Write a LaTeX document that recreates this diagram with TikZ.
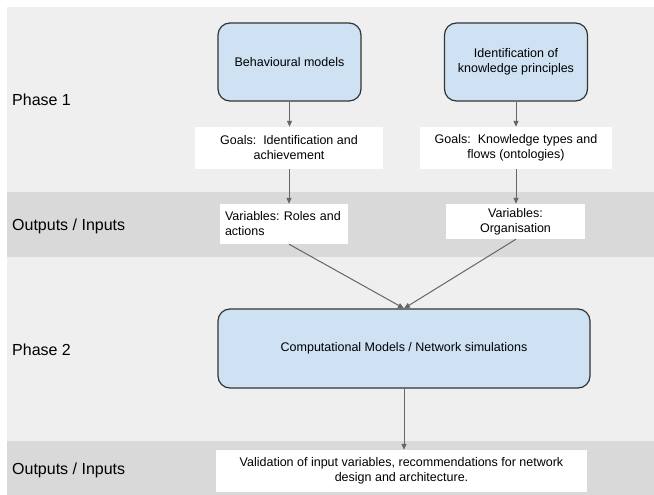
\documentclass[tikz,border=0pt]{standalone}
\usepackage{fontspec}
\setmainfont{Liberation Sans}
\usetikzlibrary{arrows.meta,calc}
\definecolor{bandlight}{HTML}{EFEFEF}
\definecolor{banddark}{HTML}{D9D9D9}
\definecolor{boxblue}{HTML}{CFE2F3}
\definecolor{boxline}{HTML}{333333}
\definecolor{arrowgray}{HTML}{666666}
\begin{document}
\begin{tikzpicture}[x=1pt,y=-1pt,
  phase/.style={anchor=west,font=\fontsize{16}{19}\selectfont,text=black,inner sep=0pt},
  model/.style={draw=boxline,line width=1.2pt,fill=boxblue,rounded corners=12pt,align=center,font=\fontsize{12.5}{15}\selectfont,inner sep=0pt},
  note/.style={fill=white,align=center,font=\fontsize{12.5}{15}\selectfont,inner sep=0pt},
  flow/.style={draw=arrowgray,line width=1pt,-{Triangle[length=6pt,width=5pt]}}]
\useasboundingbox (0,0) rectangle (654,495);
\fill[white] (0,0) rectangle (654,495);
\fill[bandlight] (7,7) rectangle (654,192);
\fill[banddark] (7,192) rectangle (654,257);
\fill[bandlight] (7,257) rectangle (654,441);
\fill[banddark] (7,441) rectangle (654,495);

\node[phase] (p1) at (12,100) {Phase 1};
\node[phase] (o1) at (12,226) {Outputs / Inputs};
\node[phase] (p2) at (12,350) {Phase 2};
\node[phase] (o2) at (12,470) {Outputs / Inputs};

\node[model, minimum width=143pt, minimum height=78pt] (bm) at (289.5,62) {Behavioural models};
\node[model, minimum width=143pt, minimum height=78pt] (ik) at (516,62) {Identification of\\knowledge principles};
\node[note, minimum width=188pt, minimum height=42pt] (g1) at (289,148) {Goals:\ \ Identification and\\achievement};
\node[note, minimum width=192pt, minimum height=42pt] (g2) at (516,148) {Goals:\ \ Knowledge types and\\flows (ontologies)};
\node[note, align=left, inner xsep=5pt, text width=118pt, minimum height=40pt] (v1) at (284,224) {Variables:\ Roles and\\actions};
\node[note, minimum width=139pt, minimum height=35pt] (v2) at (515.5,221.5) {Variables:\\Organisation};
\node[model, minimum width=372pt, minimum height=79pt] (cm) at (404,348.5) {Computational Models / Network simulations};
\node[note, minimum width=371pt, minimum height=42pt] (vd) at (401.5,471) {Validation of input variables, recommendations for network\\design and architecture.};

\draw[flow] (bm.south) -- (bm.south |- g1.north);
\draw[flow] (ik.south) -- (ik.south |- g2.north);
\draw[flow] (g1.south) -- (g1.south |- v1.north);
\draw[flow] (g2.south) -- (g2.south |- v2.north);
\draw[flow] (g1.south |- v1.south) -- (cm.north);
\draw[flow] (g2.south |- v2.south) -- (cm.north);
\draw[flow] (cm.south) -- (cm.south |- vd.north);
\end{tikzpicture}
\end{document}
